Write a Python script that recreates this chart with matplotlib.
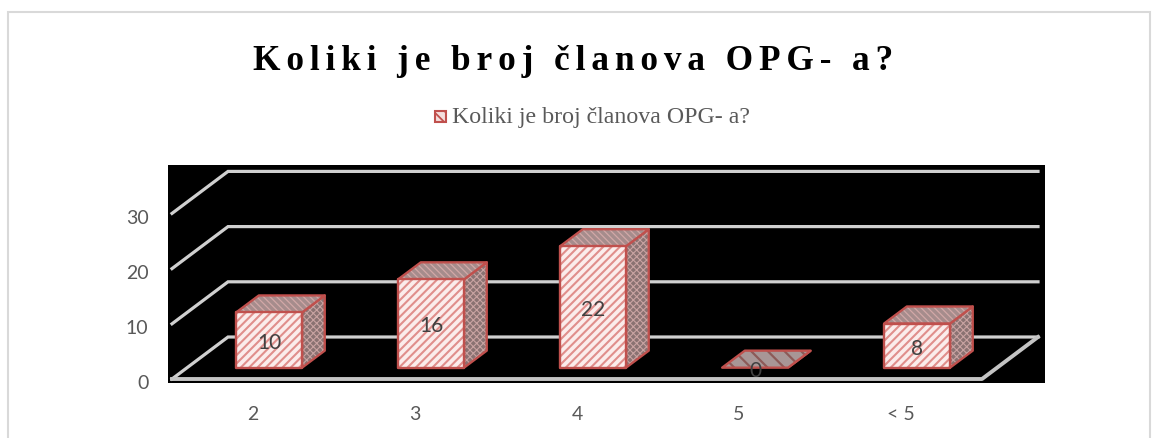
import numpy as np
import matplotlib
matplotlib.use("Agg")
import matplotlib.pyplot as plt
from matplotlib.patches import Polygon, Rectangle
from matplotlib.transforms import Affine2D

categories = ["2", "3", "4", "5", "< 5"]
values = [10, 16, 22, 0, 8]
y_ticks = [0, 10, 20, 30]
title = "Koliki je broj članova OPG- a?"

W, H = 1161, 439
# plot box in pixels
left, right, top, bottom = 168, 1045, 166, 384
floor_x, floor_y = 172, 380
cat_px = 162.0
val_px = 5.52
depth_dx = 56 / cat_px
depth_dy = 42 / val_px
bar_w = 0.407
bar_shift = 0.006
bar_front = 0.27
bar_back = 0.675

RED = "#c0504d"


def proj(x, v, d):
    return (x + d * depth_dx, v + d * depth_dy)


def face(ax, pts, fc, hatch, hc, z, hlw):
    matplotlib.rcParams["hatch.linewidth"] = hlw
    ax.add_patch(Polygon(pts, closed=True, facecolor=fc, edgecolor=hc, hatch=hatch, lw=0, zorder=z))
    ax.add_patch(Polygon(pts, closed=True, fill=False, edgecolor=RED, lw=1.7, joinstyle="round", zorder=z + 0.1))


fig = plt.figure(figsize=(W / 100, H / 100), dpi=100)
fig.add_artist(Rectangle((8 / W, -0.01), (1150 - 8) / W, (H - 13) / H + 0.01, transform=fig.transFigure,
                         fill=False, edgecolor="#d9d9d9", lw=1.5))

ax = fig.add_axes([left / W, 1 - bottom / H, (right - left) / W, (bottom - top) / H])
ax.set_facecolor("black")
ax.set_xlim((left - floor_x) / cat_px, (right - floor_x) / cat_px)
ax.set_ylim((floor_y - bottom) / val_px, (floor_y - top) / val_px)
for s in ax.spines.values():
    s.set_visible(False)

n = len(categories)

# floor and walls
for v in y_ticks:
    xs = [proj(0, v, 0), proj(0, v, 1), proj(n, v, 1)]
    ax.plot(*zip(*xs), color="#d0d0d0", lw=2.3, zorder=1, solid_joinstyle="miter")
ax.plot(*zip(proj(0, 0, 0), proj(n, 0, 0), proj(n, 0, 1)), color="#c4c4c4", lw=2.8, zorder=1)

for i, v in enumerate(values):
    x0 = i + 0.5 + bar_shift - bar_w / 2
    x1 = i + 0.5 + bar_shift + bar_w / 2
    f, b = bar_front, bar_back
    top_pts = [proj(x0, v, f), proj(x1, v, f), proj(x1, v, b), proj(x0, v, b)]
    face(ax, [proj(x1, 0, f), proj(x1, 0, b), proj(x1, v, b), proj(x1, v, f)], "#8a7272", "xxxxx", "#c9a3a2", 3, 0.8)
    if v > 0:
        face(ax, top_pts, "#a68c8c", "\\\\\\\\\\", "#d2a8a7", 4, 0.9)
        face(ax, [proj(x0, 0, f), proj(x1, 0, f), proj(x1, v, f), proj(x0, v, f)], "#fbeceb", "////", "#e08e8b", 5, 1.5)
    else:
        face(ax, top_pts, "#a89696", "\\\\", "#8c5a58", 4, 1.6)
    cx, cy = proj(i + 0.5 + bar_shift, v / 2, f)
    ax.text(cx, cy, str(v), ha="center", va="center_baseline", color="#404040", family="Lato", fontsize=15, zorder=6)

ax.set_xticks(np.arange(n) + 0.5, categories)
ax.set_yticks(y_ticks)
ax.tick_params(length=0, labelcolor="#595959", labelsize=14)
ax.tick_params(axis="x", pad=16)
ax.tick_params(axis="y", pad=14)
for t in ax.get_xticklabels() + ax.get_yticklabels():
    t.set_fontfamily("Lato")
# y labels sit a little under their gridline ends
for tick in ax.yaxis.get_major_ticks():
    tick.label1.set_transform(tick.label1.get_transform() + Affine2D().translate(0, -2.5))

fig.text(573.5 / W, 1 - 61 / H, "\u2006".join(title), ha="center", va="center",
         family=["Liberation Serif", "DejaVu Serif"], fontweight="bold", fontsize=25.4, color="black")

# legend
matplotlib.rcParams["hatch.linewidth"] = 1.3
fig.add_artist(Rectangle((435 / W, 1 - 122.5 / H), 11 / W, 11 / H, transform=fig.transFigure,
                         facecolor="#f4dedd", edgecolor=RED, hatch="\\\\\\", lw=1.5))
fig.text(452 / W, 1 - 118 / H, title, ha="left", va="center", family="Liberation Serif",
         fontsize=17.2, color="#595959")

fig.savefig("out.png", dpi=100)
